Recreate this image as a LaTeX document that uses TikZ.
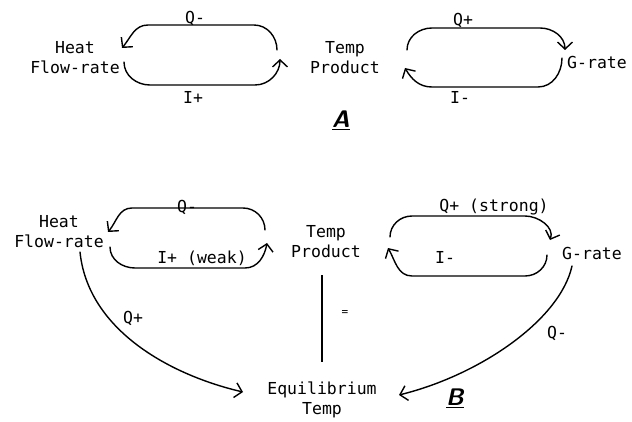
\documentclass[tikz,border=0pt]{standalone}
\usepackage{fontspec}
\setmonofont{DejaVu Sans Mono}
\usetikzlibrary{arrows.meta}

\begin{document}
\begin{tikzpicture}[x=1pt,y=1pt,
  lbl/.style={font=\ttfamily\fontsize{16.5}{20}\selectfont},
  var/.style={lbl,align=center,inner sep=0pt},
  link/.style={line width=1.4pt,line cap=round,-{Straight Barb[length=7pt,width=15pt]}},
  tag/.style={font=\sffamily\bfseries\itshape\fontsize{24}{26}\selectfont}]
\useasboundingbox (0,0) rectangle (632,421);
% diagram A
\node[var] (heatA) at (75,363) {Heat\\Flow-rate};
\node[var] (tempA) at (345,363) {Temp\\Product};
\node[var] (grateA) at (597,359) {G-rate};
\draw[link] ([shift={(-68,8)}]tempA.center) to[out=90,in=0] (254,396) -- (148,396)
  to[out=180,in=50] ([shift={(47,10)}]heatA.center);
\draw[link] ([shift={(49,-4)}]heatA.center) to[out=-90,in=180] (150,336) -- (255,336)
  to[out=0,in=-90] ([shift={(-65,-1)}]tempA.center);
\draw[link] ([shift={(62,8)}]tempA.center) to[out=90,in=180] (432,393) -- (540,393)
  to[out=0,in=90] ([shift={(-32,12)}]grateA.center);
\draw[link] ([shift={(-35,4)}]grateA.center) to[out=-90,in=0] (538,334) -- (432,334)
  to[out=180,in=-60] ([shift={(60,-10)}]tempA.center);
\node[lbl] (qA1) at (195,403) {Q-};
\node[lbl] (iA1) at (193,324) {I+};
\node[lbl] (qA2) at (463,401) {Q+};
\node[lbl] (iA2) at (460,324) {I-};
\node[tag] (tagA) at (341,301) {\underline{A}};
% diagram B
\node[var] (heatB) at (59,189) {Heat\\Flow-rate};
\node[var] (tempB) at (326,179) {Temp\\Product};
\node[var] (grateB) at (592,168) {G-rate};
\node[var] (equil) at (322,21) {Equilibrium\\Temp};
\draw[link] ([shift={(-61,12)}]tempB.center) to[out=90,in=0] (243,213) -- (132,213)
  to[out=180,in=50] ([shift={(49,0)}]heatB.center);
\draw[link] ([shift={(51,-15)}]heatB.center) to[out=-90,in=180] (135,153) -- (245,153)
  to[out=0,in=-100] ([shift={(-59,-1)}]tempB.center);
\draw[link] ([shift={(64,5)}]tempB.center) to[out=90,in=180] (412,205) -- (525,205)
  to[out=0,in=70] ([shift={(-42,13)}]grateB.center);
\draw[link] ([shift={(-45,-2)}]grateB.center) to[out=-90,in=0] (525,145) -- (412,145)
  to[out=180,in=-60] ([shift={(62,-6)}]tempB.center);
\draw[link] ([shift={(21,-20)}]heatB.center) .. controls (88,91) and (170,46) .. ([shift={(-79,8)}]equil.center);
\draw[link] ([shift={(-20,-13)}]grateB.center) .. controls (560,101) and (480,46) .. ([shift={(77,5)}]equil.center);
\draw[line width=1.2pt] ([shift={(-4,-33)}]tempB.center) -- ([shift={(0,38)}]equil.center);
\node[lbl] (qB1) at (187,214) {Q-};
\node[lbl] (iB1) at (202,163) {I+ (weak)};
\node[lbl] (qB2) at (494,214) {Q+ (strong)};
\node[lbl] (iB2) at (445,164) {I-};
\node[lbl] (qB3) at (133,103) {Q+};
\node[lbl] (qB4) at (557,88) {Q-};
\node[lbl,font=\ttfamily\fontsize{11}{12}\selectfont] (eqB) at (345,108) {=};
\node[tag] (tagB) at (455,23) {\underline{B}};
\end{tikzpicture}
\end{document}
